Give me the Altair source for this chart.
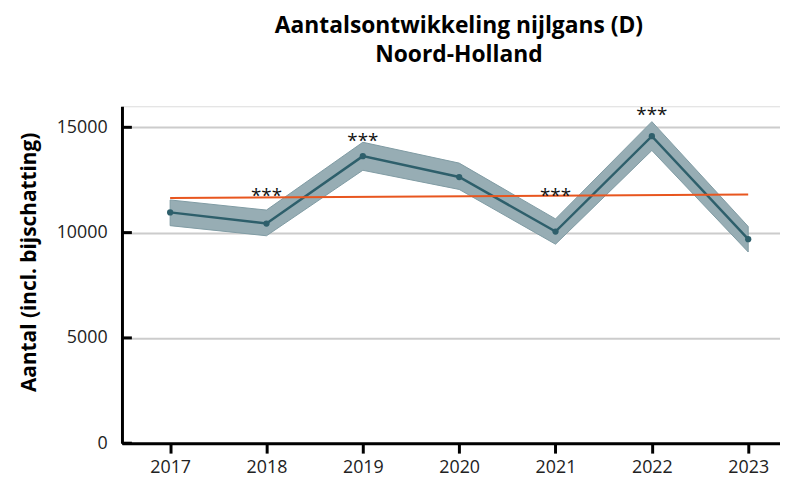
import altair as alt
import pandas as pd

years = [2017, 2018, 2019, 2020, 2021, 2022, 2023]
counts = [10960, 10430, 13630, 12640, 10050, 14580, 9690]
lower = [10330, 9850, 12960, 12050, 9450, 13900, 9080]
upper = [11550, 11070, 14290, 13300, 10650, 15270, 10290]

trend_years = [2017, 2023]
trend_values = [11640, 11810]

sig_years = [2018, 2019, 2021, 2022]
sig_pos = [11980, 14580, 11980, 15800]
sig_label = "***"

ytick_values = [0, 5000, 10000, 15000]

FONT = "Open Sans"

df = pd.DataFrame({"jaar": years, "aantal": counts, "lo": lower, "hi": upper})
tr = pd.DataFrame({"jaar": trend_years, "trend": trend_values})
sg = pd.DataFrame({"jaar": sig_years, "pos": sig_pos, "label": [sig_label] * len(sig_years)})
yt = pd.DataFrame({"v": ytick_values})

xscale = alt.Scale(domain=[2016.5, 2023.33], nice=False, zero=False)
yscale = alt.Scale(domain=[0, 16000], nice=False)

xaxis = alt.Axis(
    values=years, format="d", title=None, grid=False,
    domainColor="black", domainWidth=3, tickColor="black", tickWidth=3, tickSize=10,
    labelFont=FONT, labelFontSize=18, labelColor="#222222", labelPadding=6,
)
yaxis = alt.Axis(
    values=ytick_values, format="d", title="Aantal (incl. bijschatting)",
    grid=True, gridColor="#cccccc", gridWidth=2,
    domainColor="black", domainWidth=3, ticks=False, tickSize=0,
    labelFont=FONT, labelFontSize=18, labelColor="#222222", labelPadding=15,
    titleFont=FONT, titleFontSize=21, titleFontWeight="bold", titleColor="black",
    titleAngle=-90, titleX=-93, titleY=157, titleAlign="center", titleBaseline="middle",
)

base = alt.Chart(df)

band = base.mark_area(color="#97adb4", stroke="#7f9ba3", strokeWidth=1, opacity=1).encode(
    x=alt.X("jaar:Q", scale=xscale, axis=xaxis),
    y=alt.Y("lo:Q", scale=yscale, axis=yaxis),
    y2="hi:Q",
)

line = base.mark_line(color="#2e5f6b", strokeWidth=2.5).encode(
    x=alt.X("jaar:Q", scale=xscale),
    y=alt.Y("aantal:Q", scale=yscale),
)

pts = base.mark_circle(color="#2e5f6b", size=40, opacity=1).encode(
    x=alt.X("jaar:Q", scale=xscale),
    y=alt.Y("aantal:Q", scale=yscale),
)

trend = alt.Chart(tr).mark_line(color="#e8561f", strokeWidth=2).encode(
    x=alt.X("jaar:Q", scale=xscale),
    y=alt.Y("trend:Q", scale=yscale),
)

stars = alt.Chart(sg).mark_text(font=FONT, fontSize=19, color="#111111", baseline="middle", dy=5).encode(
    x=alt.X("jaar:Q", scale=xscale),
    y=alt.Y("pos:Q", scale=yscale),
    text="label:N",
)

yticks = alt.Chart(yt).mark_rule(color="black", strokeWidth=3).encode(
    x=alt.value(0), x2=alt.value(10),
    y=alt.Y("v:Q", scale=yscale),
)

chart = alt.layer(band, line, pts, trend, stars, yticks).properties(
    width=664, height=340,
    autosize=alt.AutoSizeParams(type="none"),
    padding={"left": 115, "top": 97, "right": 0, "bottom": 36},
    title=alt.TitleParams(
        text=["Aantalsontwikkeling nijlgans (D)", "Noord-Holland"],
        font=FONT, fontSize=23, fontWeight="bold", color="black",
        anchor="middle", dx=8, offset=40, lineHeight=29,
    ),
).configure_view(stroke=None).configure(background="white")

chart.save("out.html", embed_options={"renderer": "svg", "actions": False})
